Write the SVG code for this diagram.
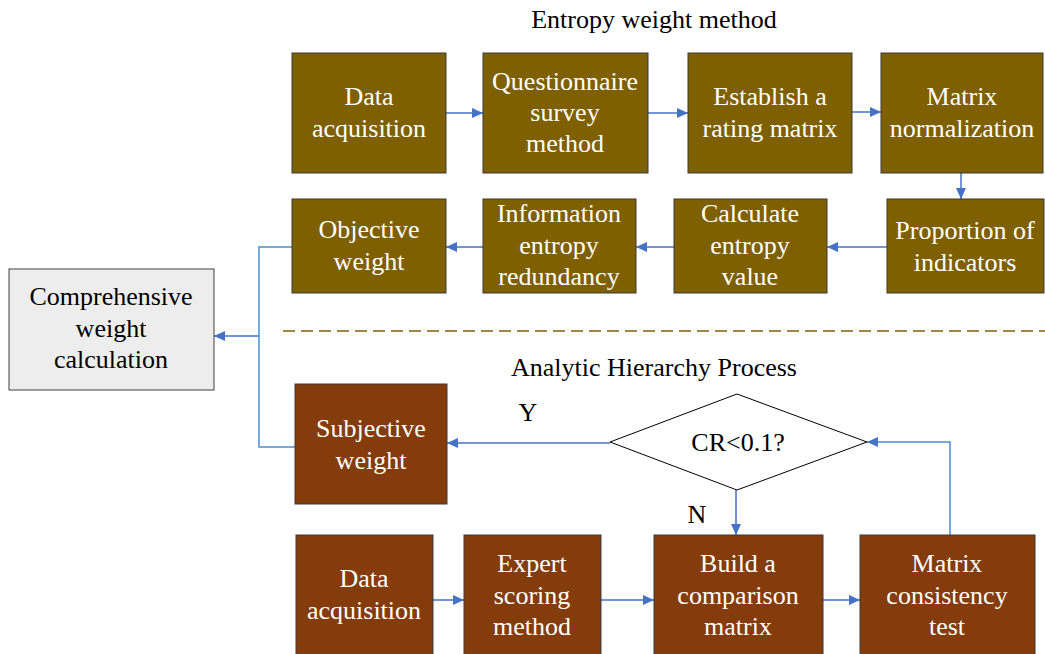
<svg xmlns="http://www.w3.org/2000/svg" width="1045" height="654" viewBox="0 0 1045 654">
<style>
text{font-family:"Liberation Serif","Times New Roman",serif;font-size:26px;text-anchor:middle}
.w{fill:#ffffff}
.k{fill:#000000}
.ent{fill:#7f6000;stroke:#3a3a3a;stroke-width:1}
.ahp{fill:#843c0c;stroke:#3a3a3a;stroke-width:1}
.c{fill:none;stroke:#4472c4;stroke-width:1.5}
.c2{fill:none;stroke:#4a8fd0;stroke-width:1.5}
</style>
<defs>
<marker id="ar" markerUnits="userSpaceOnUse" markerWidth="12" markerHeight="10" refX="11" refY="5" orient="auto">
<path d="M0,0 L11,5 L0,10 Z" fill="#4472c4"/>
</marker>
</defs>
<rect width="1045" height="654" fill="#ffffff"/>
<text class="k" x="654" y="28">Entropy weight method</text>
<text class="k" x="654" y="376">Analytic Hierarchy Process</text>
<line x1="283" y1="331" x2="1045" y2="331" stroke="#7f6000" stroke-width="1.5" stroke-dasharray="12,6"/>

<g id="connectors">
<line class="c" x1="446" y1="113" x2="483" y2="113" marker-end="url(#ar)"/>
<line class="c" x1="648" y1="113" x2="688" y2="113" marker-end="url(#ar)"/>
<line class="c" x1="852" y1="112" x2="881" y2="112" marker-end="url(#ar)"/>
<line class="c" x1="961" y1="173" x2="961" y2="199" marker-end="url(#ar)"/>
<line class="c" x1="887" y1="247" x2="827" y2="247" marker-end="url(#ar)"/>
<line class="c" x1="674" y1="247" x2="636" y2="247" marker-end="url(#ar)"/>
<line class="c" x1="483" y1="247" x2="446" y2="247" marker-end="url(#ar)"/>
<polyline class="c2" points="292,247 259,247 259,447 295,447"/>
<line class="c" x1="259" y1="336" x2="214" y2="336" marker-end="url(#ar)"/>
<line class="c" x1="610" y1="443" x2="447" y2="443" marker-end="url(#ar)"/>
<line class="c" x1="736" y1="490" x2="736" y2="535" marker-end="url(#ar)"/>
<line class="c" x1="433" y1="600" x2="464" y2="600" marker-end="url(#ar)"/>
<line class="c" x1="601" y1="600" x2="654" y2="600" marker-end="url(#ar)"/>
<line class="c" x1="823" y1="600" x2="860" y2="600" marker-end="url(#ar)"/>
<polyline class="c2" points="950,535 950,442 867,442" marker-end="url(#ar)"/>
<text class="k" x="528" y="421">Y</text>
<text class="k" x="697" y="523">N</text>
</g>

<g id="data-acquisition-ewm">
<rect class="ent" x="292" y="53" width="154" height="120"/>
<text class="w" x="369" y="105">Data</text>
<text class="w" x="369" y="137">acquisition</text>
</g>
<g id="questionnaire">
<rect class="ent" x="483" y="53" width="165" height="120"/>
<text class="w" x="565" y="90">Questionnaire</text>
<text class="w" x="565" y="121">survey</text>
<text class="w" x="565" y="152">method</text>
</g>
<g id="rating-matrix">
<rect class="ent" x="688" y="53" width="164" height="120"/>
<text class="w" x="770" y="105">Establish a</text>
<text class="w" x="770" y="137">rating matrix</text>
</g>
<g id="matrix-normalization">
<rect class="ent" x="881" y="53" width="162" height="120"/>
<text class="w" x="962" y="105">Matrix</text>
<text class="w" x="962" y="137">normalization</text>
</g>
<g id="proportion">
<rect class="ent" x="887" y="199" width="157" height="94"/>
<text class="w" x="965" y="239">Proportion of</text>
<text class="w" x="965" y="271">indicators</text>
</g>
<g id="entropy-value">
<rect class="ent" x="674" y="199" width="153" height="94"/>
<text class="w" x="750" y="222">Calculate</text>
<text class="w" x="750" y="254">entropy</text>
<text class="w" x="750" y="285">value</text>
</g>
<g id="redundancy">
<rect class="ent" x="483" y="199" width="153" height="94"/>
<text class="w" x="559" y="222">Information</text>
<text class="w" x="559" y="254">entropy</text>
<text class="w" x="559" y="285">redundancy</text>
</g>
<g id="objective-weight">
<rect class="ent" x="292" y="199" width="154" height="94"/>
<text class="w" x="369" y="238">Objective</text>
<text class="w" x="369" y="270">weight</text>
</g>
<g id="comprehensive">
<rect x="9" y="269" width="205" height="121" fill="#ededed" stroke="#404040" stroke-width="1"/>
<text class="k" x="111" y="305">Comprehensive</text>
<text class="k" x="111" y="337">weight</text>
<text class="k" x="111" y="368">calculation</text>
</g>
<g id="subjective-weight">
<rect class="ahp" x="295" y="384" width="152" height="120"/>
<text class="w" x="371" y="437">Subjective</text>
<text class="w" x="371" y="469">weight</text>
</g>
<g id="cr-check">
<polygon points="610,442 737,394 867,442 737,490" fill="#ffffff" stroke="#000000" stroke-width="1"/>
<text class="k" x="738" y="451">CR&lt;0.1?</text>
</g>
<g id="data-acquisition-ahp">
<rect class="ahp" x="296" y="535" width="137" height="125"/>
<text class="w" x="364" y="587">Data</text>
<text class="w" x="364" y="619">acquisition</text>
</g>
<g id="expert-scoring">
<rect class="ahp" x="464" y="535" width="137" height="125"/>
<text class="w" x="532" y="572">Expert</text>
<text class="w" x="532" y="604">scoring</text>
<text class="w" x="532" y="635">method</text>
</g>
<g id="comparison-matrix">
<rect class="ahp" x="654" y="535" width="169" height="125"/>
<text class="w" x="738" y="572">Build a</text>
<text class="w" x="738" y="604">comparison</text>
<text class="w" x="738" y="635">matrix</text>
</g>
<g id="consistency-test">
<rect class="ahp" x="860" y="535" width="175" height="125"/>
<text class="w" x="947" y="572">Matrix</text>
<text class="w" x="947" y="604">consistency</text>
<text class="w" x="947" y="635">test</text>
</g>
</svg>
